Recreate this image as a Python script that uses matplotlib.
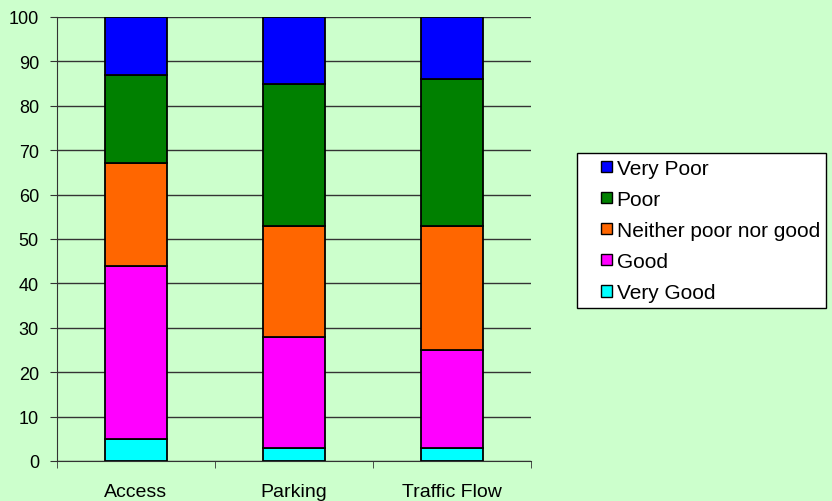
import numpy as np
import matplotlib
matplotlib.use("Agg")
import matplotlib.pyplot as plt
from matplotlib.patches import Rectangle
from matplotlib.legend_handler import HandlerPatch

plt.rcParams['font.family'] = ['Liberation Sans', 'DejaVu Sans']

# Data (percent)
categories = ["Access", "Parking", "Traffic Flow"]
series_names = ["Very Good", "Good", "Neither poor nor good", "Poor", "Very Poor"]
very_good = [5, 3, 3]
good = [39, 25, 22]
neither = [23, 25, 28]
poor = [20, 32, 33]
very_poor = [13, 15, 14]
colors = ["#00FFFF", "#FF00FF", "#FF6600", "#008000", "#0000FF"]

bg = "#CCFFCC"
fig = plt.figure(figsize=(8.32, 5.02), dpi=100, facecolor=bg)
ax = fig.add_axes([0.0685, 0.0797, 0.5697, 0.8845], facecolor=bg)

x = np.arange(len(categories))
bottom = np.zeros(len(categories))
handles = []
for name, vals, col in zip(series_names, [very_good, good, neither, poor, very_poor], colors):
    b = ax.bar(x, vals, bottom=bottom, width=0.39, color=col, edgecolor="black",
               linewidth=1.3, label=name, zorder=3)
    handles.append(b.patches[0])
    bottom += np.array(vals)

ax.set_xlim(-0.5, 2.5)
ax.set_ylim(0, 100)
ax.set_yticks(range(0, 101, 10))
ax.yaxis.grid(True, color="#333333", linewidth=1, zorder=0)
ax.set_axisbelow(True)

# category labels, with ticks at boundaries
ax.set_xticks(x)
ax.set_xticklabels(categories, fontsize=14)
ax.tick_params(axis="x", length=0, pad=16)
ax.set_xticks([-0.5, 0.5, 1.5, 2.5], minor=True)
ax.tick_params(axis="x", which="minor", length=5, color="#333333")
ax.tick_params(axis="y", labelsize=13, length=5, pad=8, color="#333333")

for s in ["top", "right"]:
    ax.spines[s].set_visible(False)
ax.spines["left"].set_color("#333333")
ax.spines["bottom"].set_color("#333333")


# small square swatch drawn at the right end of the handle box
def square_patch(legend, orig_handle, xdescent, ydescent, width, height, fontsize):
    s = fontsize * 0.55
    return Rectangle((-xdescent + width - s, -ydescent + (height - s) / 2), s, s)


leg = fig.legend(handles[::-1], series_names[::-1], loc="center left",
                 bbox_to_anchor=(0.6935, 0.539), fontsize=15, frameon=True,
                 fancybox=False, edgecolor="black", facecolor="white",
                 framealpha=1, handlelength=1.4, handleheight=0.7,
                 handletextpad=0.2, labelspacing=0.58, borderpad=0.3,
                 borderaxespad=0,
                 handler_map={Rectangle: HandlerPatch(patch_func=square_patch)})
for h in leg.legend_handles:
    h.set_linewidth(1)
leg.get_frame().set_linewidth(1)

fig.savefig("out.png", dpi=100, facecolor=bg)
